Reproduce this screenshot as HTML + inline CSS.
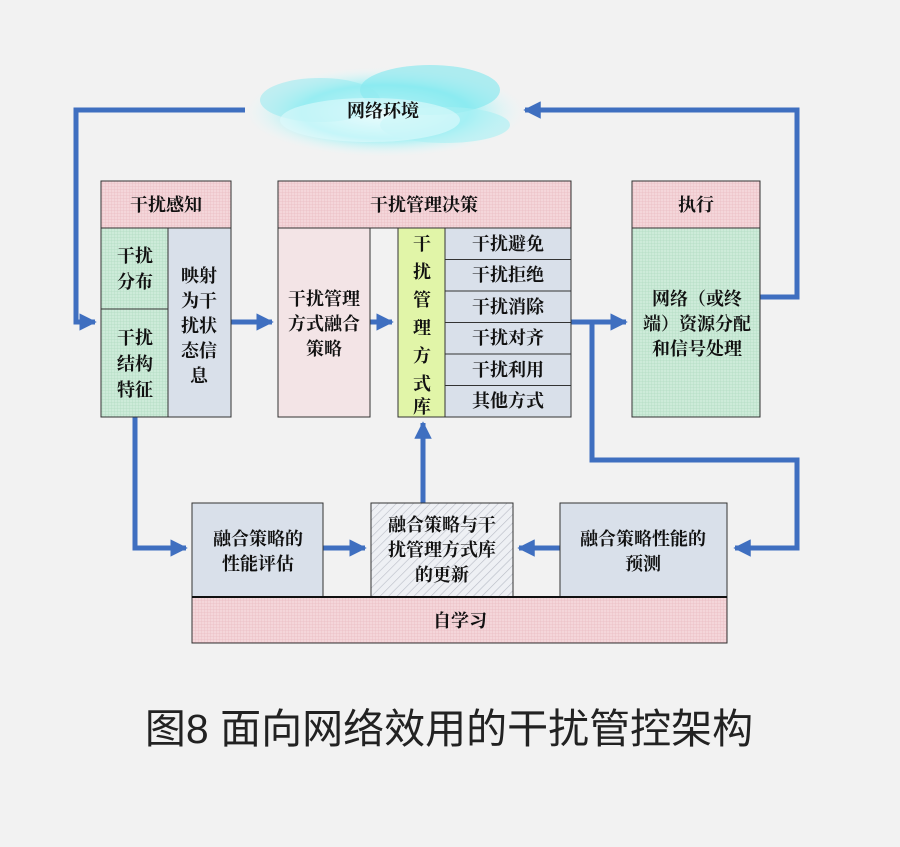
<!DOCTYPE html>
<html><head><meta charset="utf-8"><style>
html,body{margin:0;padding:0;background:#f2f2f2;}
svg{display:block}
text{font-family:"Liberation Serif","Noto Serif CJK SC",serif;font-weight:bold;fill:#111;}
.cap{font-family:"Liberation Sans","Noto Sans CJK SC",sans-serif;font-weight:normal;fill:#222;}
</style></head><body>
<svg width="900" height="847" viewBox="0 0 900 847" xmlns="http://www.w3.org/2000/svg">
<defs>
<pattern id="pk" width="3" height="3" patternUnits="userSpaceOnUse"><rect width="3" height="3" fill="#f4d6da"/><path d="M0 0H3M0 0V3" stroke="#e9bcc2" stroke-width="0.8"/></pattern>
<pattern id="gr" width="3" height="3" patternUnits="userSpaceOnUse"><rect width="3" height="3" fill="#cdebd9"/><path d="M0 0H3M0 0V3" stroke="#b2dcc2" stroke-width="0.8"/></pattern>
<pattern id="ht" width="6" height="6" patternUnits="userSpaceOnUse" patternTransform="rotate(45)"><rect width="6" height="6" fill="#eef0f4"/><line x1="0" y1="0" x2="0" y2="6" stroke="#b8bcc6" stroke-width="1.2"/></pattern>
<radialGradient id="cl" cx="50%" cy="50%" r="50%"><stop offset="0" stop-color="#ffffff"/><stop offset="0.6" stop-color="#9ff0f4"/><stop offset="1" stop-color="#e6f9fa" stop-opacity="0"/></radialGradient>
<marker id="ar" viewBox="0 0 10 10" refX="9" refY="5" markerWidth="3.5" markerHeight="3.5" orient="auto"><path d="M0 0L10 5L0 10z" fill="#3f6fc0"/></marker>
</defs>
<ellipse cx="385" cy="112" rx="140" ry="45" fill="url(#cl)"/>
<ellipse cx="430" cy="90" rx="70" ry="25" fill="#7fe7ee" opacity="0.6"/>
<ellipse cx="320" cy="100" rx="60" ry="22" fill="#8feaf0" opacity="0.5"/>
<ellipse cx="445" cy="125" rx="65" ry="18" fill="#a8f0f4" opacity="0.6"/>
<ellipse cx="370" cy="120" rx="90" ry="22" fill="#dffafc" opacity="0.6"/>
<text x="383" y="117" font-size="18" text-anchor="middle">网络环境</text>

<g fill="none" stroke="#3f6fc0" stroke-width="5">
<polyline points="245,110 76,110 76,322 95,322" marker-end="url(#ar)"/>
<polyline points="760,297 797,297 797,110 525,110" marker-end="url(#ar)"/>
<line x1="231" y1="322" x2="272" y2="322" marker-end="url(#ar)"/>
<line x1="370" y1="322" x2="392" y2="322" marker-end="url(#ar)"/>
<line x1="571" y1="322" x2="626" y2="322" marker-end="url(#ar)"/>
<polyline points="592,322 592,460 797,460 797,548 735,548" marker-end="url(#ar)"/>
<polyline points="135,417 135,548 186,548" marker-end="url(#ar)"/>
<line x1="323" y1="548" x2="365" y2="548" marker-end="url(#ar)"/>
<line x1="560" y1="548" x2="519" y2="548" marker-end="url(#ar)"/>
<line x1="423" y1="503" x2="423" y2="423" marker-end="url(#ar)"/>
</g>

<g stroke="#333" stroke-width="1">
<rect x="101" y="181" width="130" height="47" fill="url(#pk)"/>
<rect x="101" y="228" width="67" height="81" fill="url(#gr)"/>
<rect x="101" y="309" width="67" height="108" fill="url(#gr)"/>
<rect x="168" y="228" width="63" height="189" fill="#d9e0ea"/>
<rect x="278" y="181" width="293" height="47" fill="url(#pk)"/>
<rect x="278" y="228" width="92" height="189" fill="#f3e4e6"/>
<rect x="398" y="228" width="47" height="189" fill="#e1f5a8"/>
<rect x="445" y="228" width="126" height="31.5" fill="#d9e0ea"/>
<rect x="445" y="259.5" width="126" height="31.5" fill="#d9e0ea"/>
<rect x="445" y="291" width="126" height="31.5" fill="#d9e0ea"/>
<rect x="445" y="322.5" width="126" height="31.5" fill="#d9e0ea"/>
<rect x="445" y="354" width="126" height="31.5" fill="#d9e0ea"/>
<rect x="445" y="385.5" width="126" height="31.5" fill="#d9e0ea"/>
<rect x="632" y="181" width="128" height="47" fill="url(#pk)"/>
<rect x="632" y="228" width="128" height="189" fill="url(#gr)"/>
<rect x="192" y="503" width="131" height="94" fill="#d9e0ea"/>
<rect x="371" y="503" width="142" height="94" fill="url(#ht)"/>
<rect x="560" y="503" width="167" height="94" fill="#d9e0ea"/>
<rect x="192" y="597" width="535" height="46" fill="url(#pk)"/>
</g>
<line x1="192" y1="597" x2="727" y2="597" stroke="#111" stroke-width="2"/>

<g font-size="18" text-anchor="middle">
<text x="166" y="211">干扰感知</text>
<text x="424" y="211">干扰管理决策</text>
<text x="696" y="211">执行</text>
<text x="135" y="262">干扰</text><text x="135" y="288">分布</text>
<text x="135" y="344">干扰</text><text x="135" y="370">结构</text><text x="135" y="396">特征</text>
<text x="199" y="282">映射</text><text x="199" y="307">为干</text><text x="199" y="332">扰状</text><text x="199" y="357">态信</text><text x="199" y="382">息</text>
<text x="324" y="305">干扰管理</text><text x="324" y="330">方式融合</text><text x="324" y="355">策略</text>
<text x="422" y="250">干</text><text x="422" y="278">扰</text><text x="422" y="306">管</text><text x="422" y="334">理</text><text x="422" y="362">方</text><text x="422" y="390">式</text><text x="422" y="413">库</text>
<text x="508" y="250">干扰避免</text>
<text x="508" y="281">干扰拒绝</text>
<text x="508" y="313">干扰消除</text>
<text x="508" y="344">干扰对齐</text>
<text x="508" y="376">干扰利用</text>
<text x="508" y="407">其他方式</text>
<text x="697" y="305">网络（或终</text><text x="697" y="330">端）资源分配</text><text x="697" y="355">和信号处理</text>
<text x="258" y="545">融合策略的</text><text x="258" y="570">性能评估</text>
<text x="442" y="531">融合策略与干</text><text x="442" y="556">扰管理方式库</text><text x="442" y="581">的更新</text>
<text x="643" y="545">融合策略性能的</text><text x="643" y="570">预测</text>
<text x="460" y="627">自学习</text>
</g>
<text class="cap" x="449" y="743" font-size="41" text-anchor="middle">图8 面向网络效用的干扰管控架构</text>
</svg>
</body></html>
